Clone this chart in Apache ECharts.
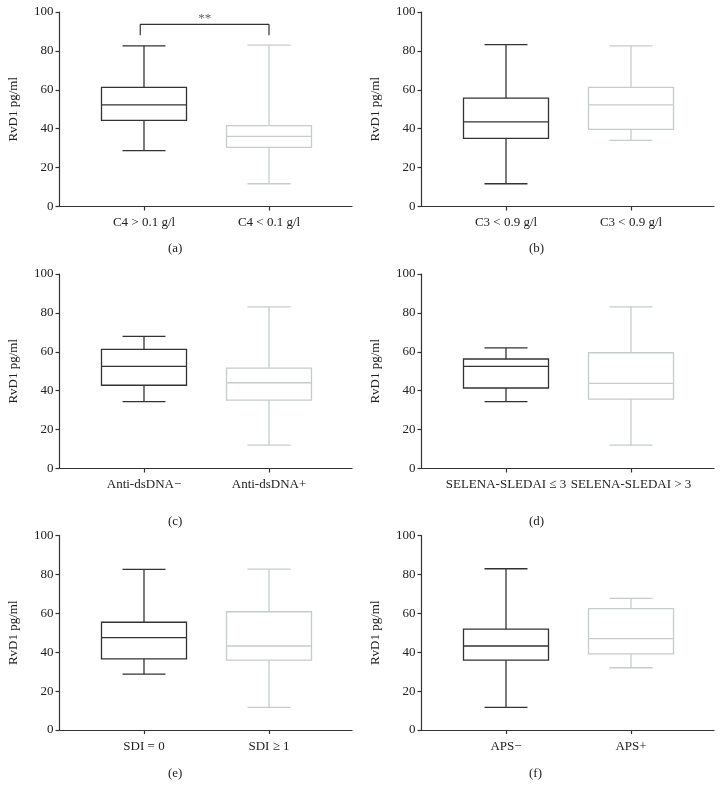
<!DOCTYPE html>
<html><head><meta charset="utf-8">
<script src="https://cdn.jsdelivr.net/npm/echarts@6/dist/echarts.min.js"></script>
<style>html,body{margin:0;padding:0;background:#fff}#c{width:723px;height:799px}</style>
</head><body><div id="c"></div>
<script>
// Data: [min, Q1, median, Q3, max] for each group
const panelLabels = ['(a)','(b)','(c)','(d)','(e)','(f)'];
const categoriesA = ['C4 > 0.1 g/l','C4 < 0.1 g/l'];
const categoriesB = ['C3 < 0.9 g/l','C3 < 0.9 g/l'];
const categoriesC = ['Anti-dsDNA\u2212','Anti-dsDNA+'];
const categoriesD = ['SELENA-SLEDAI \u2264 3','SELENA-SLEDAI > 3'];
const categoriesE = ['SDI = 0','SDI \u2265 1'];
const categoriesF = ['APS\u2212','APS+'];
const boxA = [[28.7,44.3,52.2,61.2,82.6],[11.7,30.4,36.1,41.6,83.0]];
const boxB = [[11.7,35.0,43.5,55.7,83.2],[34.0,39.7,52.2,61.2,82.6]];
const boxC = [[34.4,42.8,52.5,61.2,67.9],[12.0,35.2,44.1,51.6,83.1]];
const boxD = [[34.4,41.4,52.5,56.3,62.0],[12.0,35.7,43.8,59.5,83.1]];
const boxE = [[28.7,36.6,47.5,55.4,82.6],[11.6,35.9,43.2,60.8,82.7]];
const boxF = [[11.6,35.9,43.2,51.9,82.9],[32.0,39.1,47.0,62.4,67.7]];
const bracketX = [-0.03,-0.03,1,1];
const bracketY = [88,93.6,93.6,88];
const sigText = '**';
const yTicks = [0,20,40,60,80,100];

const panels = [
  {cats:categoriesA, box:boxA},
  {cats:categoriesB, box:boxB},
  {cats:categoriesC, box:boxC},
  {cats:categoriesD, box:boxD},
  {cats:categoriesE, box:boxE},
  {cats:categoriesF, box:boxF}
];
const colors = ['#333333','#c4cccc'];
const font = 'Liberation Serif, Times New Roman, serif';
const gridTops = [12, 274, 535.5];
const gridLefts = [59.5, 421.5];
const gW = 292.5, gH = 194.5;
const labelY = [250, 523.5, 775];
const labelX = [178, 539];
const fs = 13;

const grid=[], xAxis=[], yAxis=[], series=[], graphic=[];
panels.forEach((p,i)=>{
  const r = Math.floor(i/2), c = i%2;
  grid.push({left:gridLefts[c], top:gridTops[r], width:gW, height:gH});
  xAxis.push({type:'value', gridIndex:i, min:-0.676, max:1.664,
    splitLine:{show:false},
    axisLine:{show:true, onZero:false, lineStyle:{color:'#333',width:1.2}},
    axisTick:{show:true, customValues:[0,1], length:4, lineStyle:{color:'#333',width:1.2}},
    axisLabel:{customValues:[0,1], formatter:(v)=>p.cats[Math.round(v)], color:'#222',
      fontFamily:font, fontSize:fs, margin:10}
  });
  yAxis.push({type:'value', gridIndex:i, min:0, max:100, interval:20,
    name:'RvD1 pg/ml', nameLocation:'middle', nameRotate:90, nameGap:39,
    nameTextStyle:{fontFamily:font, fontSize:fs, color:'#222'},
    splitLine:{show:false},
    axisLine:{show:true, onZero:false, lineStyle:{color:'#333',width:1.2}},
    axisTick:{show:true, length:4, lineStyle:{color:'#333',width:1.2}},
    axisLabel:{color:'#222', fontFamily:font, fontSize:fs, margin:6}
  });
  series.push({
    type:'custom', xAxisIndex:i, yAxisIndex:i,
    data: p.box.map((b,k)=>[k].concat(b)),
    encode:{x:0, y:[1,2,3,4,5]},
    renderItem:(params, api)=>{
      const k = api.value(0);
      const mn = api.coord([k, api.value(1)]);
      const q1 = api.coord([k, api.value(2)]);
      const md = api.coord([k, api.value(3)]);
      const q3 = api.coord([k, api.value(4)]);
      const mx = api.coord([k, api.value(5)]);
      const x = mn[0], hw = 42.5, cw = 21.5;
      const st = {stroke:colors[k], lineWidth:1.3, fill:null};
      return {type:'group', children:[
        {type:'rect', shape:{x:x-hw, y:q3[1], width:2*hw, height:q1[1]-q3[1]}, style:Object.assign({},st,{fill:'#fff'})},
        {type:'line', shape:{x1:x-hw, y1:md[1], x2:x+hw, y2:md[1]}, style:st},
        {type:'line', shape:{x1:x, y1:q3[1], x2:x, y2:mx[1]}, style:st},
        {type:'line', shape:{x1:x, y1:q1[1], x2:x, y2:mn[1]}, style:st},
        {type:'line', shape:{x1:x-cw, y1:mx[1], x2:x+cw, y2:mx[1]}, style:st},
        {type:'line', shape:{x1:x-cw, y1:mn[1], x2:x+cw, y2:mn[1]}, style:st}
      ]};
    }
  });
  graphic.push({type:'text', left:labelX[c]-10, top:labelY[r]-8,
    style:{text:panelLabels[i], font:fs+'px '+font, fill:'#222', width:20, align:'center'}});
});
// significance bracket in panel (a)
series.push({type:'line', xAxisIndex:0, yAxisIndex:0, symbol:'none', silent:true,
  data: bracketX.map((x,k)=>[x, bracketY[k]]),
  lineStyle:{color:'#333', width:1.2}});
series.push({type:'scatter', xAxisIndex:0, yAxisIndex:0, symbolSize:0, silent:true,
  data:[[0.485, 93.6]],
  label:{show:true, position:'top', distance:-1, formatter:sigText, color:'#333', fontFamily:font, fontSize:13}});

const chart = echarts.init(document.getElementById('c'), null, {renderer:'canvas'});
chart.setOption({animation:false, grid, xAxis, yAxis, series, graphic});
</script></body></html>
